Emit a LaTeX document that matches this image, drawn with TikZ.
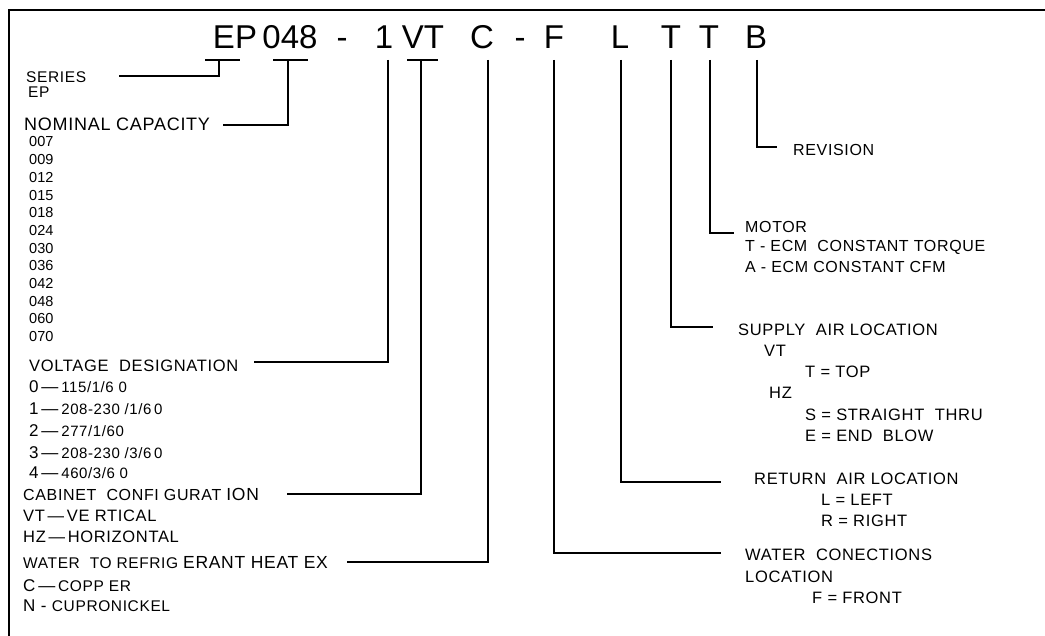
\documentclass[tikz,border=0pt]{standalone}
\usepackage{fontspec}
\setmainfont{Liberation Sans}
\newfontfamily\labelfont[LetterSpace=4]{Liberation Sans}
\newcommand{\fs}[1]{\fontsize{#1}{#1}\selectfont}

\begin{document}
\begin{tikzpicture}[x=1pt,y=-1pt,
    codeletter/.style={anchor=base,inner sep=0pt,font=\fs{33}},
    lbl/.style={anchor=west,inner sep=0pt,font=\labelfont\fs{16.5}},
    small/.style={anchor=west,inner sep=0pt,font=\fs{14.5}},
    lead/.style={line width=1.1pt}]

     \useasboundingbox (0,0) rectangle (1045,636);
     \draw[line width=2.2pt] (1045,10) -- (9,10) -- (9,636);

     % model number
     \node[codeletter] (cEP) at (235,49){EP};
     \node[codeletter] (c048) at (290,49){048};
     \node[codeletter] (cdash1) at (342,49){-};
     \node[codeletter] (c1) at (384,49){1};
     \node[codeletter] (cVT) at (423,49){VT};
     \node[codeletter] (cC) at (482,49){C};
     \node[codeletter] (cdash2) at (520,49){-};
     \node[codeletter] (cF) at (554,49){F};
     \node[codeletter] (cL) at (620,49){L};
     \node[codeletter] (cT1) at (671,49){T};
     \node[codeletter] (cT2) at (709,49){T};
     \node[codeletter] (cB) at (756,49){B};

     % left column
     \node[lbl,font=\labelfont\fs{15.5}] (series) at (26,77){SERIES};
     \node[lbl,font=\labelfont\fs{15.5}] (seriesEP) at (28,92){EP};
     \node[lbl,font=\labelfont\fs{18}] (nominal) at (24,124){NOMINAL CAPACITY};
     \foreach \n [count=\i from 0] in {007,009,012,015,018,024,030,036,042,048,060,070}
        \node[small] (cap\n) at (29,{142+17.7*\i}){\n};
     \node[lbl] (volt) at (29,366){VOLTAGE\ \ DESIGNATION};
     \node[lbl] (v0) at (29,387){{\fs{17}0\,—\,}{\fs{15}115/1/6 0}};
     \node[lbl] (v1) at (29,409){{\fs{17}1\,—\,}{\fs{15}208-230 /1/6\,0}};
     \node[lbl] (v2) at (29,431){{\fs{17}2\,—\,}{\fs{15}277/1/60}};
     \node[lbl] (v3) at (29,453){{\fs{17}3\,—\,}{\fs{15}208-230 /3/6\,0}};
     \node[lbl] (v4) at (29,473){{\fs{17}4\,—\,}{\fs{15}460/3/6 0}};
     \node[lbl] (cabinet) at (23,494){{\fs{16}CABINET\ \ CONFI GURAT }{\fs{17.5}ION}};
     \node[lbl] (cabVT) at (23,516){VT\,—\,VE RTICAL};
     \node[lbl] (cabHZ) at (23,537){HZ\,—\,HORIZONTAL};
     \node[lbl] (water) at (23,563){{\fs{15.5}WATER\ \ TO REFRIG }{\fs{17.5}ERANT HEAT EX}};
     \node[lbl] (waterC) at (23,586){{\fs{17}C\,—\,}{\fs{15.5}COPP ER}};
     \node[lbl] (waterN) at (23,606){{\fs{17}N - }{\fs{15.5}CUPRONICKEL}};

     % right column
     \node[lbl,font=\labelfont\fs{16}] (revision) at (793,150){REVISION};
     \node[lbl,font=\labelfont\fs{16}] (motor) at (745,227){MOTOR};
     \node[lbl,font=\labelfont\fs{16}] (motorT) at (745,247){T - ECM\ \ CONSTANT TORQUE};
     \node[lbl,font=\labelfont\fs{16}] (motorA) at (745,267){A - ECM CONSTANT CFM};
     \node[lbl] (supply) at (738,330){SUPPLY\ \ AIR LOCATION};
     \node[lbl] (supVT) at (764,351){VT};
     \node[lbl] (supT) at (805,372){T = TOP};
     \node[lbl] (supHZ) at (769,393){HZ};
     \node[lbl] (supS) at (805,415){S = STRAIGHT\ \ THRU};
     \node[lbl] (supE) at (805,436){E = END\ \ BLOW};
     \node[lbl] (return) at (754,479){RETURN\ \ AIR LOCATION};
     \node[lbl] (retL) at (821,500){L = LEFT};
     \node[lbl] (retR) at (821,521){R = RIGHT};
     \node[lbl] (conn) at (745,555){WATER\ \ CONECTIONS};
     \node[lbl] (connLoc) at (745,577){LOCATION};
     \node[lbl] (connF) at (812,598){F = FRONT};

     % tap points under the code and line ends beside the labels
     \coordinate (tEP) at (219,60);   \coordinate (eSeries) at (119,76);
     \coordinate (t048) at (288,60);  \coordinate (eNominal) at (223,125);
     \coordinate (t1) at (388,60);    \coordinate (eVolt) at (254,362);
     \coordinate (tVT) at (421,60);   \coordinate (eCabinet) at (287,494);
     \coordinate (tC) at (488,60);    \coordinate (eWater) at (347,562);
     \coordinate (tF) at (554,60);    \coordinate (eConn) at (721,553);
     \coordinate (tL) at (621,60);    \coordinate (eReturn) at (721,482);
     \coordinate (tT1) at (671,60);   \coordinate (eSupply) at (713,327);
     \coordinate (tT2) at (710,60);   \coordinate (eMotor) at (734,233);
     \coordinate (tB) at (757,60);    \coordinate (eRevision) at (777,147);

     \draw[lead] ([xshift=-14pt]tEP) -- ([xshift=21pt]tEP);
     \draw[lead] ([xshift=-15pt]t048) -- ([xshift=20pt]t048);
     \draw[lead] ([xshift=-14pt]tVT) -- ([xshift=17pt]tVT);

     \draw[lead] (tEP) |- (eSeries);
     \draw[lead] (t048) |- (eNominal);
     \draw[lead] (t1) |- (eVolt);
     \draw[lead] (tVT) |- (eCabinet);
     \draw[lead] (tC) |- (eWater);
     \draw[lead] (tF) |- (eConn);
     \draw[lead] (tL) |- (eReturn);
     \draw[lead] (tT1) |- (eSupply);
     \draw[lead] (tT2) |- (eMotor);
     \draw[lead] (tB) |- (eRevision);

\end{tikzpicture}
\end{document}
